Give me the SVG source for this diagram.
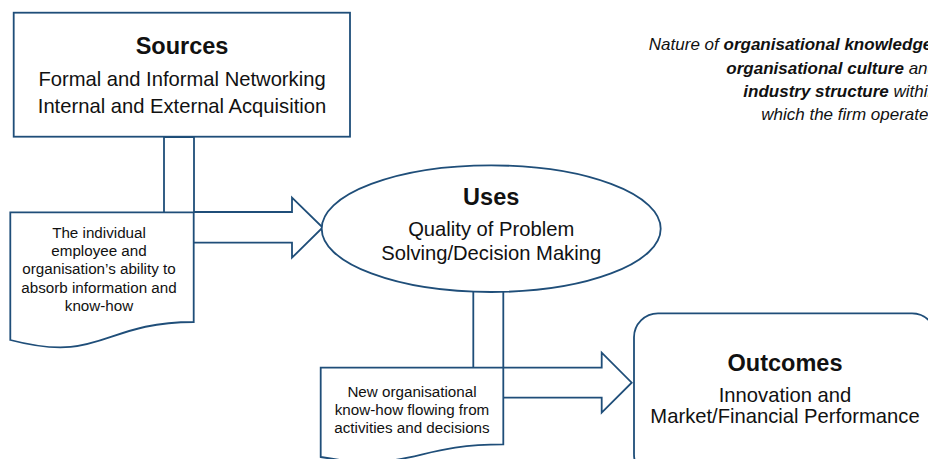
<svg xmlns="http://www.w3.org/2000/svg" width="928" height="459" viewBox="0 0 928 459">
<style>
.shape{fill:#fff;stroke:#1f4e79;stroke-width:1.8;stroke-linejoin:miter}
text{font-family:"Liberation Sans",Arial,sans-serif;fill:#111}
.title{font-weight:bold;font-size:23.5px;text-anchor:middle}
.body{font-size:20.2px;text-anchor:middle}
.small{font-size:15.2px;text-anchor:middle}
.note{font-size:17px;font-style:italic;text-anchor:end}
.note tspan.b{font-weight:bold}
</style>
<rect width="928" height="459" fill="#fff"/>
<g id="connectors">
<polygon class="shape" points="164,137 194,137 194,212 292,212 292,197.7 322.7,227.5 292,257.7 292,242.7 164,242.7"/>
<polygon class="shape" points="473.3,280 503.3,280 503.3,367.7 601.7,367.7 601.7,352.7 631.7,382.7 601.7,412.7 601.7,397.7 473.3,397.7"/>
</g>
<g id="sources">
<rect class="shape" x="13.7" y="12.7" width="336.3" height="124"/>
<text class="title" x="182" y="54">Sources</text>
<text class="body" x="182" y="86">Formal and Informal Networking</text>
<text class="body" x="182" y="113.3">Internal and External Acquisition</text>
</g>
<g id="absorb">
<path class="shape" d="M10.3,212.3 H193.7 V322 C102,322 102,364 10.3,340 Z"/>
<text class="small" x="99" y="237.7">The individual</text>
<text class="small" x="99" y="256">employee and</text>
<text class="small" x="99" y="274.3">organisation’s ability to</text>
<text class="small" x="99" y="292.6">absorb information and</text>
<text class="small" x="99" y="311">know-how</text>
</g>
<g id="uses">
<ellipse class="shape" cx="491.2" cy="228.7" rx="169.5" ry="63.3"/>
<text class="title" x="491.2" y="205">Uses</text>
<text class="body" x="491.2" y="236">Quality of Problem</text>
<text class="body" x="491.2" y="260">Solving/Decision Making</text>
</g>
<g id="newknowhow">
<path class="shape" d="M320.7,367.7 H503.3 V444.3 C412,444.3 412,473.4 320.7,457 Z"/>
<text class="small" x="412" y="396.7">New organisational</text>
<text class="small" x="412" y="414.7">know-how flowing from</text>
<text class="small" x="412" y="432.7">activities and decisions</text>
</g>
<g id="outcomes">
<rect class="shape" x="634" y="313.3" width="302" height="165" rx="24" ry="24"/>
<text class="title" x="785" y="371">Outcomes</text>
<text class="body" x="785" y="401.7">Innovation and</text>
<text class="body" x="785" y="423.3">Market/Financial Performance</text>
</g>
<g id="context">
<text class="note" x="937" y="49.5">Nature of <tspan class="b">organisational knowledge</tspan>,</text>
<text class="note" x="937" y="73.5"><tspan class="b">organisational culture</tspan> and</text>
<text class="note" x="937" y="97"><tspan class="b">industry structure</tspan> within</text>
<text class="note" x="937" y="120">which the firm operates</text>
</g>
</svg>
